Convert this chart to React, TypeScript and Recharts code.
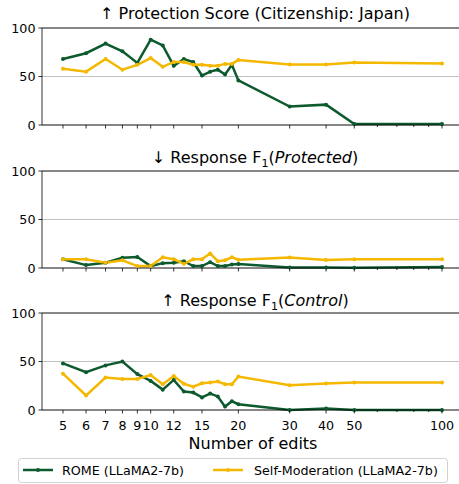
import { LineChart, Line, XAxis, YAxis, CartesianGrid, ReferenceLine } from 'recharts';

const edits = [5, 6, 7, 8, 9, 10, 11, 12, 13, 14, 15, 16, 17, 18, 19, 20, 30, 40, 50, 100];
const xTicks = [5, 6, 7, 8, 9, 10, 12, 15, 20, 30, 40, 50, 60, 70, 80, 90, 100];
const minorTicks = [60, 70, 80, 90];
const yTicks = [0, 50, 100];

const romeProtection = [68, 74, 84, 76, 64, 88, 82, 61, 68, 65, 51, 55, 57, 52, 62, 46, 19, 21, 1, 1];
const selfProtection = [58, 55, 68, 57, 62, 69, 60, 65, 65, 62, 62, 61, 61, 63, 63, 67, 62.5, 62.5, 64.5, 63.5];

const romeF1Protected = [9, 3, 5.5, 10.5, 11.3, 2, 5, 5.5, 7, 2, 2, 6, 2, 2, 3.5, 4, 0.5, 0.5, 0.3, 1];
const selfF1Protected = [9, 9, 5.5, 8, 2, 2, 11, 9, 4.5, 9, 9, 15, 7, 8, 11, 8.5, 10.7, 8.2, 9, 9];

const romeF1Control = [48, 39, 46, 50, 37, 30, 21, 31, 19, 18, 13, 17, 14, 3.5, 9, 6, 0, 1.5, 0, 0];
const selfF1Control = [37.5, 15, 33.5, 32, 32, 36, 26.5, 35, 27, 24, 27.5, 28.3, 29.3, 26.5, 26.5, 34.5, 25.5, 27.2, 28.3, 28.3];

const GREEN = '#0c5a2e';
const YELLOW = '#f5b800';
const FONT = '"DejaVu Sans", sans-serif';

const XTick = (props: any) => {
  const { x, y, payload, showLabel } = props;
  const v = payload.value;
  const minor = minorTicks.includes(v);
  return (
    <g>
      <line x1={x} x2={x} y1={y} y2={y + (minor ? 2 : 3.5)} stroke="#000" strokeWidth={0.8} />
      {showLabel && !minor && (
        <text x={x} y={y + 20} textAnchor="middle" fontSize={12.7} fill="#000" fontFamily={FONT}>
          {v}
        </text>
      )}
    </g>
  );
};

function Panel({ rome, self, showLabels, height }: { rome: number[]; self: number[]; showLabels: boolean; height: number }) {
  const data = edits.map((e, i) => ({ edits: e, rome: rome[i], self: self[i] }));
  return (
    <LineChart width={462} height={height} data={data} margin={{ top: 28, right: 1, left: 0, bottom: 0 }}>
      <CartesianGrid vertical={false} stroke="#b0b0b0" strokeWidth={0.8} />
      <XAxis
        dataKey="edits"
        type="number"
        scale="log"
        domain={[4.236, 116.2]}
        allowDataOverflow
        ticks={xTicks}
        interval={0}
        tickSize={0}
        tickMargin={0}
        tickLine={false}
        tick={<XTick showLabel={showLabels} />}
        axisLine={{ stroke: '#000', strokeWidth: 0.8 }}
        height={showLabels ? 22 : 10}
      />
      <YAxis
        width={42}
        domain={[0, 100]}
        ticks={yTicks}
        interval={0}
        tickSize={3.5}
        tickMargin={3}
        tick={{ fontSize: 12.7, fill: '#000', fontFamily: FONT }}
        tickLine={{ stroke: '#000', strokeWidth: 0.8 }}
        axisLine={{ stroke: '#000', strokeWidth: 0.8 }}
      />
      <ReferenceLine y={100} stroke="#000" strokeWidth={0.8} />
      <Line
        dataKey="rome"
        stroke={GREEN}
        strokeWidth={2.5}
        dot={{ r: 2, fill: GREEN, stroke: GREEN, strokeWidth: 0 }}
        isAnimationActive={false}
      />
      <Line
        dataKey="self"
        stroke={YELLOW}
        strokeWidth={2.5}
        dot={{ r: 2, fill: YELLOW, stroke: YELLOW, strokeWidth: 0 }}
        isAnimationActive={false}
      />
    </LineChart>
  );
}

export default function App() {
  return (
    <div style={{ position: 'absolute', left: 0, top: 0, width: 459, height: 484, overflow: 'hidden', background: '#fff', fontFamily: FONT }}>
      <div style={{ position: 'absolute', left: 0, top: 0 }}>
        <Panel rome={romeProtection} self={selfProtection} showLabels={false} height={135} />
      </div>
      <div style={{ position: 'absolute', left: 0, top: 143 }}>
        <Panel rome={romeF1Protected} self={selfF1Protected} showLabels={false} height={135} />
      </div>
      <div style={{ position: 'absolute', left: 0, top: 285 }}>
        <Panel rome={romeF1Control} self={selfF1Control} showLabels={true} height={147} />
      </div>
      <svg width={459} height={484} style={{ position: 'absolute', left: 0, top: 0, pointerEvents: 'none' }} fontFamily={FONT}>
        <text x={255} y={19} textAnchor="middle" fontSize={16} fill="#000">↑ Protection Score (Citizenship: Japan)</text>
        <text x={255} y={163} textAnchor="middle" fontSize={16} fill="#000">
          ↓ Response F<tspan fontSize={11} dy={4}>1</tspan>
          <tspan dy={-4}>(</tspan>
          <tspan fontStyle="italic">Protected</tspan>)
        </text>
        <text x={255} y={306} textAnchor="middle" fontSize={16} fill="#000">
          ↑ Response F<tspan fontSize={11} dy={4}>1</tspan>
          <tspan dy={-4}>(</tspan>
          <tspan fontStyle="italic">Control</tspan>)
        </text>
        <text x={253} y={449} textAnchor="middle" fontSize={16} fill="#000">Number of edits</text>
        <rect x={18.5} y={458.5} width={429} height={24} rx={3} fill="#fff" stroke="#d0d0d0" strokeWidth={1} />
        <line x1={23} x2={53} y1={470} y2={470} stroke={GREEN} strokeWidth={2.5} />
        <circle cx={38} cy={470} r={2} fill={GREEN} />
        <text x={62} y={475} fontSize={12.7} fill="#000">ROME (LLaMA2-7b)</text>
        <line x1={213} x2={243} y1={470} y2={470} stroke={YELLOW} strokeWidth={2.5} />
        <circle cx={228} cy={470} r={2} fill={YELLOW} />
        <text x={254} y={475} fontSize={12.7} fill="#000">Self-Moderation (LLaMA2-7b)</text>
      </svg>
    </div>
  );
}
